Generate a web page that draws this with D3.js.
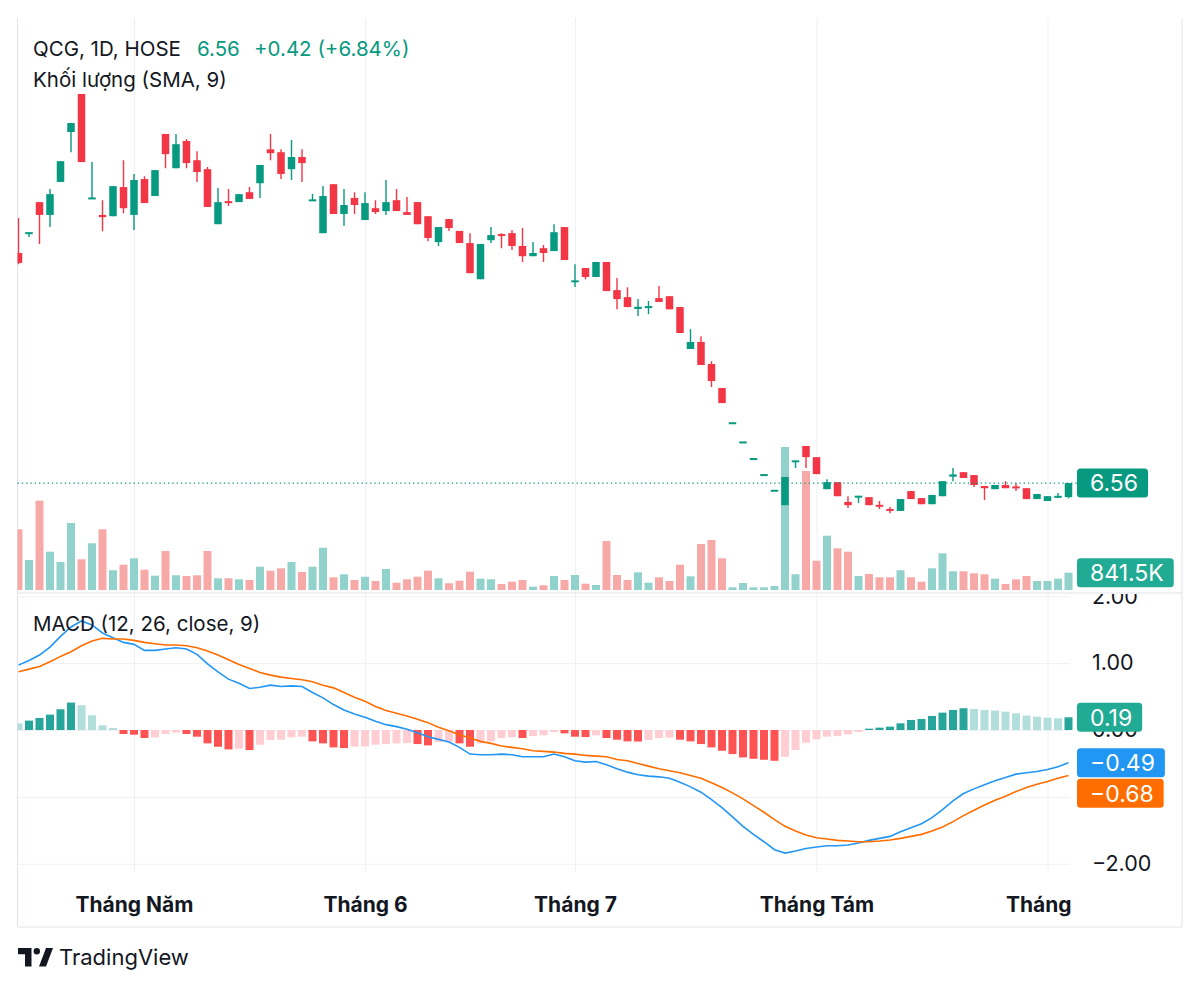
<!DOCTYPE html>
<html>
<head>
<meta charset="utf-8">
<script src="https://cdn.jsdelivr.net/npm/d3@7"></script>
<style>
body { margin: 0; background: #fff; }
svg text { font-family: Inter, "Noto Sans", sans-serif; }
</style>
</head>
<body>
<div id="chart-area"></div>
<script>
// QCG daily candles, 12 Apr - 6 Sep 2024 (price in thousand VND)
const open  = [13.75,14.34,15.34,14.94,15.97,17.53,18.72,15.44,14.94,14.90,15.81,14.94,16.06,15.53,17.47,16.40,17.25,16.65,16.37,14.65,
  15.37,15.34,15.65,15.93,16.99,16.90,16.37,16.75,15.39,14.37,15.90,14.97,15.47,14.78,15.15,15.06,15.40,15.03,15.34,14.90,
  14.09,14.81,14.44,14.06,12.93,14.15,14.34,14.37,13.97,13.65,13.90,13.81,14.56,12.86,13.28,13.00,13.47,12.59,12.37,12.00,
  12.04,12.34,12.40,12.06,10.75,10.97,10.28,9.53,8.43,7.83,7.31,6.81,6.32,5.87,7.22,7.72,7.37,6.37,6.59,5.97,
  6.12,6.12,5.87,5.75,5.69,6.31,6.09,5.90,6.15,6.76,6.90,6.81,6.47,6.37,6.50,6.45,6.40,6.06,6.00,6.12,6.12]
const high  = [14.84,14.40,15.34,15.75,16.62,17.81,18.72,16.59,15.40,15.84,16.65,16.22,16.15,16.34,17.47,17.47,17.31,16.93,16.44,15.78,
  15.75,15.59,15.81,16.50,17.47,16.99,17.28,16.99,15.59,15.84,15.90,15.75,15.65,15.65,15.40,16.03,15.75,15.50,15.34,14.90,
  14.56,14.81,14.44,14.37,14.03,14.56,14.37,14.47,14.53,14.09,14.00,14.65,14.56,13.40,13.28,13.47,13.47,12.97,12.68,12.31,
  12.25,12.72,12.40,12.06,11.37,11.15,10.37,9.53,8.43,7.83,7.31,6.81,6.32,6.75,7.26,7.72,7.37,6.68,6.59,6.15,
  6.15,6.12,6.00,5.81,6.06,6.31,6.09,6.19,6.62,7.03,6.90,6.81,6.47,6.50,6.62,6.56,6.40,6.22,6.15,6.25,6.56]
const low   = [13.40,14.25,14.03,14.56,15.97,16.90,16.59,15.44,14.43,14.90,14.99,14.47,15.31,15.53,16.40,16.40,16.40,15.97,15.19,14.65,
  15.22,15.34,15.44,15.47,16.65,16.06,16.03,15.97,15.39,14.37,14.97,14.59,14.97,14.78,14.97,14.94,15.06,14.94,14.65,14.12,
  13.97,14.44,14.06,13.12,12.93,14.06,13.90,13.84,13.47,13.65,13.47,13.81,13.53,12.69,12.93,13.00,12.56,11.99,12.06,11.78,
  11.84,12.22,11.99,11.25,10.75,10.25,9.56,9.06,8.43,7.83,7.31,6.81,6.32,5.87,7.03,7.03,6.84,6.37,6.15,5.78,
  5.94,5.87,5.75,5.62,5.69,6.06,5.90,5.90,6.15,6.62,6.72,6.44,6.03,6.37,6.40,6.31,6.06,6.06,6.00,6.12,6.08]
const close = [13.44,14.40,14.94,15.59,16.62,17.81,16.59,15.47,14.87,15.84,15.15,16.03,15.31,16.34,16.84,17.15,16.56,16.28,15.19,15.34,
  15.31,15.59,15.44,16.50,16.87,16.22,16.75,16.56,15.40,15.53,14.97,15.25,15.25,15.31,15.03,15.34,15.06,14.94,14.65,14.22,
  14.56,14.53,14.06,13.12,14.03,14.31,14.28,13.97,13.65,13.75,13.75,14.40,13.53,12.87,13.00,13.47,12.56,12.31,12.06,12.07,
  12.08,12.22,11.99,11.25,10.97,10.25,9.75,9.06,8.43,7.83,7.31,6.81,6.32,6.75,7.26,7.37,6.84,6.59,6.15,5.87,
  6.15,5.87,5.83,5.69,6.06,6.06,5.90,6.19,6.62,6.83,6.72,6.50,6.40,6.50,6.40,6.40,6.06,6.22,6.15,6.14,6.56]
// volume, thousand shares
const volume = [2952,1459,4344,1863,1362,3259,1493,2271,2952,958,1231,1542,987,696,1897,715,681,715,1897,569,
  569,520,486,1133,939,1055,1362,876,1133,2057,618,764,486,647,438,1021,355,520,647,939,
  569,326,452,890,550,520,292,404,486,161,229,681,486,730,306,243,2383,730,486,861,
  355,618,438,1231,666,2237,2432,1542,131,340,131,131,195,6956,764,5788,1425,2641,2028,1863,
  681,778,618,618,958,618,404,1055,1785,910,910,812,764,550,292,520,681,438,438,550,841.5]
// MACD (12, 26, close, 9)
const macd = [0.97,1.04,1.12,1.24,1.40,1.54,1.63,1.57,1.45,1.38,1.31,1.28,1.19,1.19,1.21,1.23,1.21,1.13,0.99,0.87,
  0.76,0.70,0.62,0.64,0.67,0.65,0.66,0.65,0.56,0.48,0.38,0.30,0.24,0.19,0.13,0.08,0.05,0.01,-0.04,-0.10,
  -0.14,-0.18,-0.26,-0.36,-0.37,-0.37,-0.36,-0.37,-0.40,-0.40,-0.40,-0.36,-0.40,-0.46,-0.48,-0.47,-0.52,-0.58,-0.63,-0.67,
  -0.69,-0.70,-0.72,-0.78,-0.85,-0.93,-1.04,-1.16,-1.30,-1.44,-1.56,-1.67,-1.79,-1.84,-1.81,-1.77,-1.75,-1.73,-1.73,-1.72,
  -1.69,-1.65,-1.62,-1.59,-1.52,-1.46,-1.40,-1.31,-1.19,-1.06,-0.95,-0.88,-0.82,-0.76,-0.71,-0.66,-0.64,-0.62,-0.59,-0.55,-0.49]
const signal = [0.87,0.91,0.95,1.02,1.10,1.17,1.26,1.33,1.37,1.36,1.36,1.34,1.31,1.29,1.27,1.27,1.26,1.23,1.18,1.12,
  1.05,0.98,0.92,0.86,0.82,0.79,0.77,0.75,0.72,0.67,0.63,0.56,0.49,0.43,0.35,0.29,0.25,0.21,0.16,0.11,
  0.04,-0.01,-0.07,-0.12,-0.17,-0.20,-0.24,-0.26,-0.28,-0.31,-0.32,-0.33,-0.35,-0.36,-0.38,-0.39,-0.40,-0.44,-0.46,-0.50,
  -0.54,-0.58,-0.61,-0.64,-0.68,-0.72,-0.79,-0.86,-0.94,-1.03,-1.13,-1.23,-1.34,-1.44,-1.51,-1.57,-1.61,-1.63,-1.65,-1.66,
  -1.67,-1.67,-1.66,-1.645,-1.62,-1.59,-1.56,-1.51,-1.45,-1.37,-1.28,-1.20,-1.12,-1.05,-0.99,-0.92,-0.86,-0.81,-0.77,-0.72,-0.68]
const hist = [0.10,0.14,0.18,0.23,0.31,0.41,0.37,0.22,0.07,0.03,-0.06,-0.07,-0.12,-0.11,-0.06,-0.04,-0.06,-0.10,-0.20,-0.25,
  -0.29,-0.28,-0.30,-0.22,-0.15,-0.145,-0.11,-0.10,-0.17,-0.20,-0.26,-0.27,-0.25,-0.245,-0.22,-0.21,-0.20,-0.195,-0.21,-0.23,
  -0.18,-0.175,-0.20,-0.25,-0.20,-0.17,-0.12,-0.11,-0.12,-0.09,-0.08,-0.03,-0.05,-0.10,-0.105,-0.08,-0.12,-0.145,-0.17,-0.172,
  -0.15,-0.12,-0.115,-0.145,-0.17,-0.21,-0.26,-0.31,-0.36,-0.41,-0.43,-0.445,-0.46,-0.40,-0.30,-0.19,-0.14,-0.10,-0.09,-0.065,
  -0.03,0.02,0.035,0.05,0.10,0.15,0.165,0.21,0.26,0.30,0.325,0.315,0.30,0.29,0.275,0.25,0.215,0.20,0.185,0.175,0.19]

// first trading day of each month (bar index) and its label
const monthIdx = [11, 33, 53, 76, 98]
const monthLabels = ["Tháng Năm", "Tháng 6", "Tháng 7", "Tháng Tám", "Tháng 9"]
const macdTicks = [2, 1, 0, -1, -2]
// -1.00 sits under the signal tag, so it gets no label
const macdLabelTicks = [2, 1, 0, -2]

const UP = "#089981", DOWN = "#f23645"
const INK = "#131722", GRID = "#eef0f4", BORDER = "#e0e3eb"

// layout
const L = 17.5, R = 1070, EDGE = 1182
const TOP = 18, PRICE_BOT = 593, MACD_BOT = 872, BOT = 927

const svg = d3.select("#chart-area").append("svg")
  .attr("width", 1200)
  .attr("height", 989)
  .style("background", "#fff")

const defs = svg.append("defs")
defs.append("clipPath").attr("id", "price-clip").append("rect")
  .attr("x", L).attr("y", TOP).attr("width", R + 4 - L).attr("height", PRICE_BOT - TOP)
defs.append("clipPath").attr("id", "macd-clip").append("rect")
  .attr("x", L).attr("y", PRICE_BOT).attr("width", R + 4 - L).attr("height", MACD_BOT - PRICE_BOT)
defs.append("clipPath").attr("id", "scale-clip").append("rect")
  .attr("x", R).attr("y", PRICE_BOT + 1).attr("width", EDGE - R).attr("height", MACD_BOT - PRICE_BOT)
defs.append("clipPath").attr("id", "time-clip").append("rect")
  .attr("x", L).attr("y", MACD_BOT).attr("width", R + 3 - L).attr("height", BOT - MACD_BOT)

// scales
const n = close.length
const idx = d3.range(n)
const x = d3.scaleLinear().domain([0, n - 1]).range([18.5, 1068.5])
const yP = d3.scaleLinear().domain([5, 19]).range([533, 85])
const yV = d3.scaleLinear().domain([0, d3.max(volume)]).range([590, 447])
const yM = d3.scaleLinear().domain([-2, 2]).range([863.8, 596.2])

// vertical month grid
svg.append("g")
  .attr("transform", `translate(0, ${MACD_BOT})`)
  .call(d3.axisBottom(x).tickValues(monthIdx).tickSize(-(MACD_BOT - TOP)).tickFormat(""))
  .call(g => g.select(".domain").remove())
  .call(g => g.selectAll("line").attr("stroke", GRID))

// horizontal MACD grid
svg.append("g")
  .attr("transform", `translate(${R}, 0)`)
  .call(d3.axisLeft(yM).tickValues(macdTicks).tickSize(R - L).tickFormat(""))
  .call(g => g.select(".domain").remove())
  .call(g => g.selectAll("line").attr("stroke", GRID))

// frame
const frame = svg.append("g").attr("stroke", BORDER).attr("fill", "none")
frame.append("line").attr("x1", L).attr("x2", L).attr("y1", TOP).attr("y2", BOT)
frame.append("line").attr("x1", EDGE).attr("x2", EDGE).attr("y1", TOP).attr("y2", BOT)
frame.append("line").attr("x1", L).attr("x2", EDGE).attr("y1", BOT).attr("y2", BOT)
frame.append("line").attr("x1", L).attr("x2", EDGE).attr("y1", PRICE_BOT).attr("y2", PRICE_BOT)

// price pane
const priceG = svg.append("g").attr("clip-path", "url(#price-clip)")

priceG.append("g").selectAll("rect")
  .data(idx)
  .join("rect")
  .attr("x", i => x(i) - 4)
  .attr("width", 8)
  .attr("y", i => yV(volume[i]))
  .attr("height", i => yV(0) - yV(volume[i]))
  .attr("fill", i => close[i] >= open[i] ? "#92d2cc" : "#f7a9a7")

const candle = priceG.append("g").selectAll("g")
  .data(idx)
  .join("g")
  .attr("fill", i => close[i] >= open[i] ? UP : DOWN)
  .attr("stroke", i => close[i] >= open[i] ? UP : DOWN)

candle.append("line")
  .attr("x1", i => x(i)).attr("x2", i => x(i))
  .attr("y1", i => yP(high[i])).attr("y2", i => yP(low[i]))
  .attr("stroke-width", 1.4)

candle.append("rect")
  .attr("stroke", "none")
  .attr("x", i => x(i) - 3.75)
  .attr("width", 7.5)
  .each(function (i) {
    let top = Math.min(yP(open[i]), yP(close[i]))
    let h = Math.abs(yP(open[i]) - yP(close[i]))
    if (h < 2) { top -= (2 - h) / 2; h = 2 }
    d3.select(this).attr("y", top).attr("height", h)
  })

// last price line
svg.append("line")
  .attr("x1", L).attr("x2", 1077)
  .attr("y1", yP(close[n - 1])).attr("y2", yP(close[n - 1]))
  .attr("stroke", UP)
  .attr("stroke-width", 1.3)
  .attr("stroke-dasharray", "1.3,3")

// MACD pane
const macdG = svg.append("g").attr("clip-path", "url(#macd-clip)")

macdG.append("g").selectAll("rect")
  .data(idx)
  .join("rect")
  .attr("x", i => x(i) - 4)
  .attr("width", 8)
  .attr("y", i => yM(Math.max(0, hist[i])))
  .attr("height", i => Math.abs(yM(hist[i]) - yM(0)))
  .attr("fill", i => {
    const prev = i ? hist[i - 1] : Infinity
    if (hist[i] >= 0) return hist[i] >= prev ? "#26a69a" : "#b2dfdb"
    return hist[i] < prev ? "#ff5252" : "#ffcdd2"
  })

const line = d3.line().x((d, i) => x(i)).y(d => yM(d))
macdG.append("path").datum(macd)
  .attr("d", line).attr("fill", "none").attr("stroke", "#2196f3").attr("stroke-width", 1.6)
macdG.append("path").datum(signal)
  .attr("d", line).attr("fill", "none").attr("stroke", "#ff6d00").attr("stroke-width", 1.6)

// MACD scale labels
svg.append("g")
  .attr("clip-path", "url(#scale-clip)")
  .append("g")
  .attr("transform", "translate(1092, 0)")
  .call(d3.axisRight(yM).tickValues(macdLabelTicks).tickSize(0).tickPadding(0)
    .tickFormat(d => d3.format(".2f")(d).replace("-", "\u2212")))
  .call(g => g.select(".domain").remove())
  .call(g => g.selectAll("text")
    .attr("fill", INK)
    .attr("font-size", 21.5)
    .attr("font-family", "Inter, sans-serif"))

// time axis
svg.append("g")
  .attr("clip-path", "url(#time-clip)")
  .append("g")
  .attr("transform", `translate(0, ${MACD_BOT})`)
  .call(d3.axisBottom(x).tickValues(monthIdx).tickSize(0)
    .tickFormat((d, i) => monthLabels[i]))
  .call(g => g.select(".domain").remove())
  .call(g => g.selectAll("text")
    .attr("y", 40).attr("dy", null)
    .attr("fill", INK)
    .attr("font-size", 21)
    .attr("font-weight", 700)
    .attr("font-family", "Inter, sans-serif"))

// value tags on the right scale
function tag(y, label, fill) {
  const g = svg.append("g")
  const rect = g.append("rect").attr("x", 1077).attr("y", y - 14.5).attr("height", 29).attr("rx", 3.5).attr("fill", fill)
  const t = g.append("text")
    .attr("x", 1090).attr("y", y).attr("dy", "0.36em")
    .attr("fill", "#fff").attr("font-size", 23)
    .text(label)
  rect.attr("width", t.node().getComputedTextLength() + 23)
}
const fmt = v => d3.format(".2f")(v).replace("-", "\u2212")
tag(yP(close[n - 1]), fmt(close[n - 1]), UP)
tag(yV(volume[n - 1]), d3.format(".1f")(volume[n - 1]) + "K", "#22ab94")
tag(yM(hist[n - 1]), fmt(hist[n - 1]), "#22ab94")
const macdY = yM(macd[n - 1])
tag(macdY, fmt(macd[n - 1]), "#2196f3")
const sigY = Math.max(yM(signal[n - 1]), macdY + 30.5)
tag(sigY, fmt(signal[n - 1]), "#ff6d00")

// legends
const FS = 20.5
svg.append("text").attr("x", 33).attr("y", 56).attr("font-size", FS).attr("fill", INK).text("QCG, 1D, HOSE")
svg.append("text").attr("x", 197).attr("y", 56).attr("font-size", FS).attr("fill", UP).text(fmt(close[n - 1]))
svg.append("text").attr("x", 254).attr("y", 56).attr("font-size", FS).attr("fill", UP)
  .text(`+${fmt(close[n - 1] - close[n - 2])} (+${d3.format(".2f")((close[n - 1] / close[n - 2] - 1) * 100)}%)`)
svg.append("text").attr("x", 33).attr("y", 87).attr("font-size", FS).attr("fill", INK).text("Khối lượng (SMA, 9)")
svg.append("text").attr("x", 33).attr("y", 631).attr("font-size", FS).attr("fill", INK).text("MACD (12, 26, close, 9)")

// TradingView mark
const logo = svg.append("g").attr("transform", "translate(18, 948)").attr("fill", INK)
logo.append("path").attr("d", "M0 0H13.5V18.5H7V6.3H0Z")
logo.append("circle").attr("cx", 18.8).attr("cy", 3.2).attr("r", 3.2)
logo.append("path").attr("d", "M21 18.5L28 0H35L28 18.5Z")
svg.append("text").attr("x", 59).attr("y", 965).attr("font-size", 22).attr("fill", INK).text("TradingView")
</script>
</body>
</html>
